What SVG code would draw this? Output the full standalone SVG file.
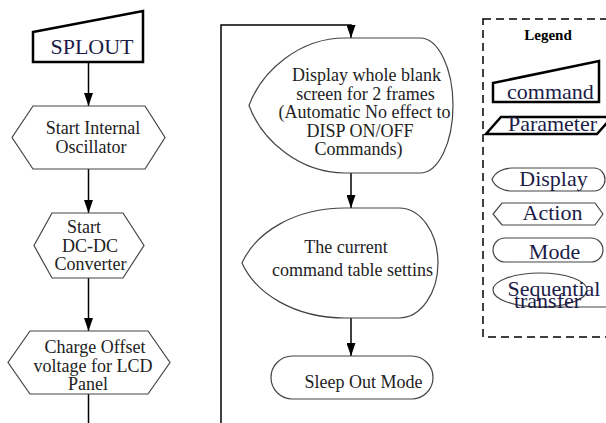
<svg xmlns="http://www.w3.org/2000/svg" width="606" height="423" viewBox="0 0 606 423" font-family="'Liberation Serif', 'DejaVu Serif', 'Times New Roman', serif">
<defs>
<marker id="arr" viewBox="0 0 13 9" refX="13" refY="4.5" markerWidth="13" markerHeight="9" markerUnits="userSpaceOnUse" orient="auto">
<path d="M0,0 L13,4.5 L0,9 Z" fill="#000"/>
</marker>
<style>
text{font-family:'Liberation Serif','DejaVu Serif','Times New Roman',serif}
.n{fill:#fff;stroke:#444;stroke-width:1.2}
.k{fill:#fff;stroke:#000;stroke-width:2.5}
.t{font-size:18px;fill:#222;text-anchor:middle}
.lt{font-size:22px;fill:#1c1c48;text-anchor:middle}
.c{fill:none;stroke:#000;stroke-width:1.5}
</style>
</defs>
<rect width="606" height="423" fill="#fff"/>
<g id="connectors">
<line class="c" x1="88.5" y1="62" x2="88.5" y2="106" marker-end="url(#arr)"/>
<line class="c" x1="88.5" y1="169" x2="88.5" y2="213" marker-end="url(#arr)"/>
<line class="c" x1="88.5" y1="278" x2="88.5" y2="331" marker-end="url(#arr)"/>
<line class="c" x1="88.5" y1="394" x2="88.5" y2="423"/>
<polyline class="c" points="221,423 221,25 351,25 351,38" marker-end="url(#arr)"/>
<line class="c" x1="351" y1="173" x2="351" y2="208" marker-end="url(#arr)"/>
<line class="c" x1="351" y1="318" x2="351" y2="356" marker-end="url(#arr)"/>
</g>
<g id="splout">
<polygon class="k" points="33,32 143,11 143,62 33,62"/>
<text class="lt" x="92" y="54" font-size="22">SPLOUT</text>
</g>
<g id="osc">
<polygon class="n" points="33,106 145,106 165,137.5 145,169 33,169 12,137.5"/>
<text class="t" x="93" y="134">Start Internal</text>
<text class="t" x="91" y="153">Oscillator</text>
</g>
<g id="dcdc">
<polygon class="n" points="52,213 123,213 144,245.5 123,278 52,278 34,245.5"/>
<text class="t" x="84" y="233">Start</text>
<text class="t" x="90" y="252">DC-DC</text>
<text class="t" x="90.5" y="270">Converter</text>
</g>
<g id="charge">
<polygon class="n" points="30,331 148,331 170,362.5 148,394 30,394 8,362.5"/>
<text class="t" x="95" y="353">Charge Offset</text>
<text class="t" x="93" y="372">voltage for LCD</text>
<text class="t" x="88" y="390">Panel</text>
</g>
<g id="blank">
<path class="n" d="M249,105.5 C262,70 300,38 345,38 L420,38 A33 67.5 0 0 1 420,173 L345,173 C300,173 262,141 249,105.5 Z"/>
<text class="t" x="366.5" y="81">Display whole blank</text>
<text class="t" x="365.5" y="100">screen for 2 frames</text>
<text class="t" x="364.5" y="118">(Automatic No effect to</text>
<text class="t" x="360" y="137">DISP ON/OFF</text>
<text class="t" x="358.5" y="155">Commands)</text>
</g>
<g id="table">
<path class="n" d="M242,263 C256,232 295,208 345,208 L399,208 A39 55 0 0 1 399,318 L345,318 C295,318 256,294 242,263 Z"/>
<text class="t" x="346" y="253">The current</text>
<text class="t" x="352.5" y="276">command table settins</text>
</g>
<g id="sleepout">
<rect class="n" x="271" y="356" width="162" height="43" rx="21.5" ry="21.5"/>
<text class="t" x="363.5" y="388">Sleep Out Mode</text>
</g>
<g id="legend">
<rect x="483" y="19" width="140" height="318" fill="none" stroke="#000" stroke-width="1.5" stroke-dasharray="8 5"/>
<text x="548" y="40" font-size="15" font-weight="bold" text-anchor="middle" fill="#000">Legend</text>
<polygon class="k" points="493,83 599,61 599,102 493,102"/>
<text class="lt" x="550.5" y="99" font-size="24">command</text>
<polygon class="k" points="501,117 612,117 597,134 486,134"/>
<text class="lt" x="552.5" y="131">Parameter</text>
<path class="n" d="M492,179.5 C495,172 503,168 512,168 L594,168 A11 11.5 0 0 1 594,191 L512,191 C503,191 495,187 492,179.5 Z"/>
<text class="lt" x="553.5" y="186">Display</text>
<polygon class="n" points="502,203 595,203 603,214 595,225 502,225 493,214"/>
<text class="lt" x="552.5" y="220">Action</text>
<rect class="n" x="493" y="238" width="110" height="24" rx="12" ry="12"/>
<text class="lt" x="554.5" y="259">Mode</text>
<ellipse class="n" cx="540" cy="290" rx="47" ry="17"/>
<line x1="540" y1="307" x2="606" y2="307" stroke="#444" stroke-width="1.2"/>
<text class="lt" x="554" y="296">Sequential</text>
<text class="lt" x="547.5" y="308">transfer</text>
</g>
</svg>
